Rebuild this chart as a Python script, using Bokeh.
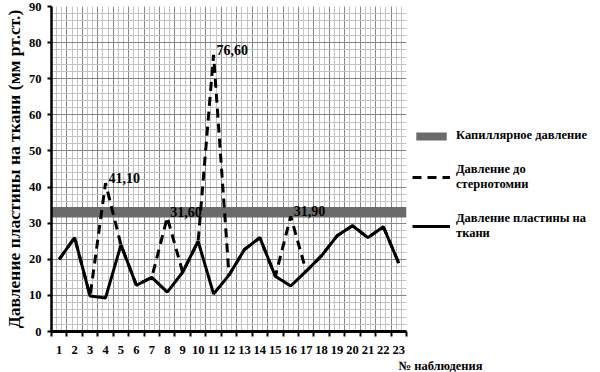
from bokeh.plotting import figure
from bokeh.models import FixedTicker, Legend, LegendItem, Title, ColumnDataSource
from bokeh.core.properties import value
from bokeh.embed import file_html
from bokeh.resources import INLINE

# ---- data ----
observations = list(range(1, 24))
plate_pressure = [20, 26, 9.8, 9.3, 24, 12.8, 15, 10.9, 16.4, 25, 10.4, 15.6,
                  22.7, 26, 15.3, 12.6, 16.7, 21, 26.5, 29.3, 26, 29, 18.9]
before_sternotomy = [20, 26, 9.8, 41.1, 24, 12.8, 15, 31.6, 16.4, 25, 76.6, 15.6,
                     22.7, 26, 15.3, 31.9, 16.7, 21, 26.5, 29.3, 26, 29, 18.9]
capillary_low = 31.6
capillary_high = 34.5
peak_obs = [4, 8, 11, 16]
peak_vals = [41.1, 31.6, 76.6, 31.9]
peak_text = ["41,10", "31,60", "76,60", "31,90"]
y_ticks = list(range(0, 91, 10))

FONT = "Liberation Serif"

x_lo, x_hi = 0.5, len(observations) + 0.5
p = figure(frame_width=355, frame_height=325, output_backend="svg", toolbar_location=None,
           x_range=(x_lo, x_hi), y_range=(0, 90),
           min_border_left=43, min_border_right=10, min_border_top=6, min_border_bottom=0)
p.outline_line_color = None
p.background_fill_color = "white"

# grid (graph paper)
bounds = [x_lo + i for i in range(len(observations) + 1)]
thirds = [x_lo + i / 3 for i in range(3 * len(observations) + 1)]
p.xgrid.ticker = FixedTicker(ticks=bounds, minor_ticks=thirds)
p.ygrid.ticker = FixedTicker(ticks=y_ticks, minor_ticks=list(range(0, 91, 2)))
for g in (p.xgrid, p.ygrid):
    g.grid_line_color = "#858585"
    g.grid_line_width = 1
    g.minor_grid_line_color = "#c4c4c4"
    g.minor_grid_line_width = 1

# capillary band
cap = p.hbar(y=[(capillary_low + capillary_high) / 2], height=capillary_high - capillary_low,
             left=x_lo, right=x_hi, fill_color="#6b6b6b", line_color=None)

# lines
dash = p.line(observations, before_sternotomy, line_color="black", line_width=3,
              line_dash="9 6")
solid = p.line(observations, plate_pressure, line_color="black", line_width=3)

# peak labels
src = ColumnDataSource(dict(x=peak_obs, y=peak_vals, t=peak_text))
p.text(x="x", y="y", text="t", source=src, x_offset=3, text_baseline="bottom",
       text_font=value(FONT), text_font_style="bold", text_font_size="14px",
       text_color="black")

# axes
p.xaxis.ticker = FixedTicker(ticks=observations, minor_ticks=bounds)
p.xaxis.major_tick_out = 0
p.xaxis.major_tick_in = 0
p.xaxis.minor_tick_out = 5
p.xaxis.minor_tick_in = 0
p.xaxis.minor_tick_line_width = 2
p.xaxis.axis_line_width = 3
p.xaxis.major_label_standoff = 9
p.yaxis.ticker = FixedTicker(ticks=y_ticks)
p.yaxis.major_tick_out = 4
p.yaxis.major_tick_in = 0
p.yaxis.major_tick_line_width = 2
p.yaxis.minor_tick_out = 0
p.yaxis.minor_tick_in = 0
p.yaxis.axis_line_width = 2.5
p.yaxis.major_label_standoff = 6
p.yaxis.axis_label = "Давление пластины на ткани (мм рт.ст.)"
p.yaxis.axis_label_standoff = 2
p.yaxis.axis_label_text_font = FONT
p.yaxis.axis_label_text_font_style = "bold"
p.yaxis.axis_label_text_font_size = "17.5px"
p.yaxis.axis_label_text_color = "black"
for ax in (p.xaxis, p.yaxis):
    ax.major_label_text_font = FONT
    ax.major_label_text_font_style = "bold"
    ax.major_label_text_font_size = "12.5px"
    ax.major_label_text_color = "black"
    ax.axis_line_color = "black"
    ax.major_tick_line_color = "black"
    ax.minor_tick_line_color = "black"

p.add_layout(Title(text="№ наблюдения", align="left", offset=347, standoff=0,
                   text_font=FONT, text_font_style="bold", text_font_size="12.5px",
                   text_color="black"), "below")

legend = Legend(items=[
    LegendItem(label="Капиллярное давление", renderers=[cap]),
    LegendItem(label="Давление до\nстернотомии", renderers=[dash]),
    LegendItem(label="Давление пластины на\nткани", renderers=[solid]),
], location=(6, 90))
legend.label_text_font = FONT
legend.label_text_font_style = "bold"
legend.label_text_font_size = "12.5px"
legend.label_text_color = "black"
legend.glyph_width = 38
legend.glyph_height = 10
legend.label_standoff = 6
legend.spacing = 19
legend.margin = 0
legend.padding = 0
legend.border_line_color = None
legend.background_fill_alpha = 0
p.add_layout(legend, "right")

open("out.html", "w").write(file_html(p, INLINE))
